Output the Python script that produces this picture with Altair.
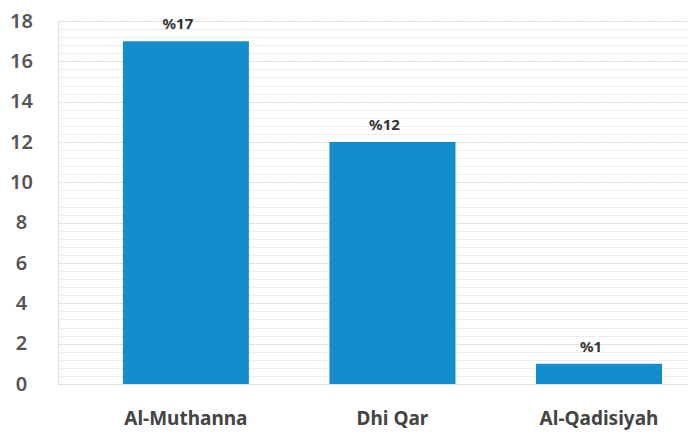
import altair as alt
import pandas as pd

regions = ["Al-Muthanna", "Dhi Qar", "Al-Qadisiyah"]
values = [17, 12, 1]
labels = ["%17", "%12", "%1"]
y_ticks = [0, 2, 4, 6, 8, 10, 12, 14, 16, 18]
minor_grid = [round(i * 0.4, 1) for i in range(46)]

df = pd.DataFrame({"region": regions, "value": values, "label": labels})

FONT = "Noto Sans"

x_scale = alt.Scale(paddingInner=0.39, paddingOuter=0.22, align=0.714)

x_enc = alt.X(
    "region:N",
    sort=regions,
    title=None,
    scale=x_scale,
    axis=alt.Axis(
        labelAngle=0,
        labelFont=FONT,
        labelFontSize=19,
        labelFontWeight="bold",
        labelColor="#444444",
        labelPadding=25,
        domain=False,
        ticks=False,
        grid=False,
    ),
)

y_scale = alt.Scale(domain=[0, 18], nice=False)

grid_layer = alt.Chart(df).mark_bar(opacity=0).encode(
    x=x_enc,
    y=alt.Y(
        "value:Q",
        scale=y_scale,
        title=None,
        axis=alt.Axis(
            orient="right",
            values=minor_grid,
            labels=False,
            ticks=False,
            domain=False,
            grid=True,
            gridColor="#ececec",
            gridWidth=1,
        ),
    ),
)

bars = alt.Chart(df).mark_bar(color="#148DCD").encode(
    x=x_enc,
    y=alt.Y(
        "value:Q",
        scale=y_scale,
        title=None,
        axis=alt.Axis(
            values=y_ticks,
            labelFont=FONT,
            labelFontSize=20,
            labelFontWeight=600,
            labelColor="#555555",
            labelAlign="center",
            labelPadding=37,
            tickSize=0,
            ticks=False,
            domain=False,
            grid=True,
            gridColor="#dcdcdc",
            gridDash=[4, 2],
            gridWidth=1,
        ),
    ),
)

text = alt.Chart(df).mark_text(
    font=FONT,
    fontSize=15,
    fontWeight="bold",
    color="#333333",
    baseline="bottom",
    dy=-9,
    dx=-8,
).encode(
    x=x_enc,
    y=alt.Y("value:Q", scale=y_scale, axis=None),
    text="label:N",
)

chart = (
    alt.layer(grid_layer, bars, text)
    .resolve_axis(y="independent")
    .properties(
        width=630,
        height=363,
        autosize=alt.AutoSizeParams(type="none"),
        padding={"left": 50, "top": 13, "right": 0, "bottom": 50},
    )
    .configure_view(stroke=None)
    .configure(background="white")
)

chart.save("out.html", embed_options={"renderer": "svg", "actions": False})
